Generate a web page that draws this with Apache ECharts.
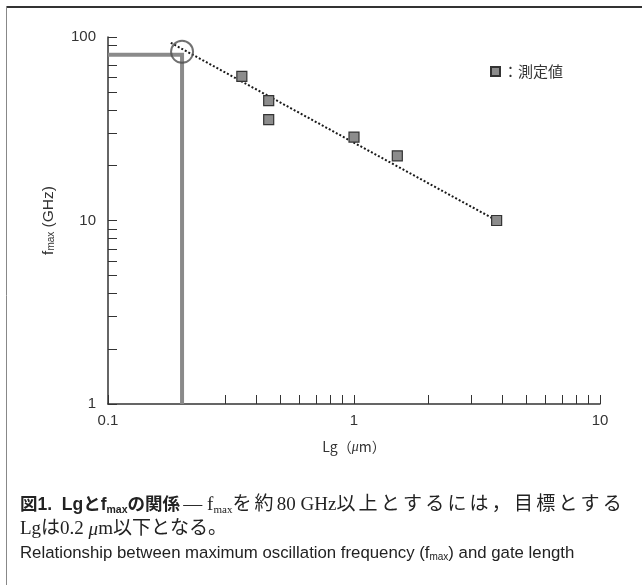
<!DOCTYPE html>
<html>
<head>
<meta charset="utf-8">
<script src="https://cdn.jsdelivr.net/npm/echarts@6/dist/echarts.min.js"></script>
<style>
  html, body { margin: 0; padding: 0; background: #fff; }
  #chart { width: 642px; height: 585px; }
</style>
</head>
<body>
<div id="chart"></div>
<script>
// Measured maximum oscillation frequency against gate length
const gateLength = [0.35, 0.45, 0.45, 1.0, 1.5, 3.8];   // Lg (µm)
const fmaxMeasured = [61, 45, 35.5, 28.5, 22.5, 10];     // f_max (GHz)

// Dotted trend line through the measurements
const trendLg = [0.18, 3.8];
const trendF = [93, 10];

// Design target: f_max of about 80 GHz needs Lg of 0.2 µm
const targetLg = 0.2;
const targetF = 80;
const markF = 83;   // centre of the ring on the trend line

// Log-axis ticks and labels
const xTickValues = [0.1, 0.2, 0.3, 0.4, 0.5, 0.6, 0.7, 0.8, 0.9, 1, 2, 3, 4, 5, 6, 7, 8, 9, 10];
const xLabelValues = [0.1, 1, 10];
const yTickValues = [1, 2, 3, 4, 5, 6, 7, 8, 9, 10, 20, 30, 40, 50, 60, 70, 80, 90, 100];
const yLabelValues = [1, 10, 100];

const legendName = '：測定値';

const sans = "'Liberation Sans', 'Noto Sans CJK JP', sans-serif";
const jp = "'Noto Sans CJK JP', 'Liberation Sans', sans-serif";
const serif = "'Liberation Serif', 'Noto Sans CJK JP', serif";

const chart = echarts.init(document.getElementById('chart'), null, { renderer: 'canvas' });

const measured = gateLength.map((lg, i) => [lg, fmaxMeasured[i]]);
const trend = trendLg.map((lg, i) => [lg, trendF[i]]);
const guide = [[xLabelValues[0], targetF], [targetLg, targetF], [targetLg, yLabelValues[0]]];

const fmtNum = v => String(v);

// Wrap each full-width character in its own token so the caption line is spread out
const spreadJp = s => s.split('').map(c => '{j|' + c + '}').join('');

chart.setOption({
  animation: false,
  backgroundColor: '#fff',
  grid: { left: 108, top: 37, width: 492, height: 367, containLabel: false },
  legend: {
    data: [legendName],
    left: 490,
    top: 64,
    padding: 0,
    icon: 'rect',
    itemWidth: 9,
    itemHeight: 9,
    itemGap: 4,
    textStyle: { fontFamily: jp, fontSize: 15, color: '#333', padding: [0, 0, 0, -2] }
  },
  xAxis: {
    type: 'log',
    logBase: 10,
    min: 0.1,
    max: 10,
    name: '{a|Lg（}{i|μ}{a|m）}',
    nameLocation: 'middle',
    nameGap: 36,
    nameTextStyle: {
      rich: {
        a: { fontFamily: jp, fontSize: 14, color: '#333' },
        i: { fontFamily: serif, fontSize: 14, fontStyle: 'italic', color: '#333' }
      }
    },
    axisLine: { show: true, lineStyle: { color: '#333', width: 1.5 } },
    axisTick: { show: true, inside: true, length: 9, customValues: xTickValues, lineStyle: { color: '#333', width: 1 } },
    minorTick: { show: false },
    axisLabel: { customValues: xLabelValues, formatter: fmtNum, fontFamily: sans, fontSize: 15, color: '#333', margin: 9 },
    splitLine: { show: false }
  },
  yAxis: {
    type: 'log',
    logBase: 10,
    min: 1,
    max: 100,
    name: '{a|f}{s|max}{a| (GHz)}',
    nameLocation: 'middle',
    nameRotate: 90,
    nameGap: 52,
    nameTextStyle: {
      rich: {
        a: { fontFamily: sans, fontSize: 15.5, lineHeight: 15, color: '#333' },
        s: { fontFamily: sans, fontSize: 10, lineHeight: 10, verticalAlign: 'bottom', color: '#333' }
      }
    },
    axisLine: { show: true, lineStyle: { color: '#333', width: 1.5 } },
    axisTick: { show: true, inside: true, length: 9, customValues: yTickValues, lineStyle: { color: '#333', width: 1 } },
    minorTick: { show: false },
    axisLabel: { customValues: yLabelValues, formatter: fmtNum, fontFamily: sans, fontSize: 15, color: '#333', margin: 12 },
    splitLine: { show: false }
  },
  series: [
    {
      name: 'guide',
      type: 'line',
      data: guide,
      symbol: 'none',
      silent: true,
      z: 1,
      lineStyle: { color: '#8a8a8a', width: 4, join: 'miter', cap: 'butt' }
    },
    {
      name: 'trend',
      type: 'line',
      data: trend,
      symbol: 'none',
      silent: true,
      z: 2,
      lineStyle: { color: '#1a1a1a', width: 2, type: [2, 2] }
    },
    {
      name: 'target',
      type: 'scatter',
      data: [[targetLg, markF]],
      symbol: 'circle',
      symbolSize: 22,
      silent: true,
      z: 3,
      itemStyle: { color: 'rgba(0,0,0,0)', borderColor: '#4d4d4d', borderWidth: 2 }
    },
    {
      name: legendName,
      type: 'scatter',
      data: measured,
      symbol: 'rect',
      symbolSize: 10,
      z: 4,
      itemStyle: { color: '#8c8c8c', borderColor: '#333', borderWidth: 1.2, opacity: 1 }
    }
  ],
  graphic: [
    // panel frame
    { type: 'line', shape: { x1: 6, y1: 7, x2: 642, y2: 7 }, style: { stroke: '#333', lineWidth: 2 } },
    { type: 'line', shape: { x1: 6.5, y1: 6, x2: 6.5, y2: 585 }, style: { stroke: '#888', lineWidth: 1 } },
    // caption
    {
      type: 'text', left: 20, top: 496,
      style: {
        text: '{b|図1.  Lgとf}{bs|max}{b|の関係} {m|— f}{ms|max}' + spreadJp('を約') + '{m|80 GHz}' +
              spreadJp('以上とするには，目標とする'),
        rich: {
          b: { fontFamily: sans, fontWeight: 'bold', fontSize: 17.5, lineHeight: 20, fill: '#222' },
          bs: { fontFamily: sans, fontWeight: 'bold', fontSize: 10.5, lineHeight: 10, verticalAlign: 'bottom', fill: '#222' },
          m: { fontFamily: serif, fontSize: 19, lineHeight: 20, fill: '#222' },
          ms: { fontFamily: serif, fontSize: 11, lineHeight: 11, verticalAlign: 'bottom', fill: '#222' },
          j: { fontFamily: serif, fontSize: 19, lineHeight: 20, fill: '#222', padding: [0, 3.2, 0, 0] }
        }
      }
    },
    {
      type: 'text', left: 20, top: 520,
      style: {
        text: '{m|Lgは0.2 }{i|μ}{m|m以下となる。}',
        rich: {
          m: { fontFamily: serif, fontSize: 19, lineHeight: 20, fill: '#222' },
          i: { fontFamily: serif, fontSize: 19, lineHeight: 20, fontStyle: 'italic', fill: '#222' }
        }
      }
    },
    {
      type: 'text', left: 20, top: 545,
      style: {
        text: '{a|Relationship between maximum oscillation frequency (f}{s|max}{a|) and gate length}',
        rich: {
          a: { fontFamily: sans, fontSize: 16.8, lineHeight: 18, fill: '#222' },
          s: { fontFamily: sans, fontSize: 10, lineHeight: 10, verticalAlign: 'bottom', fill: '#222' }
        }
      }
    }
  ]
});
</script>
</body>
</html>
